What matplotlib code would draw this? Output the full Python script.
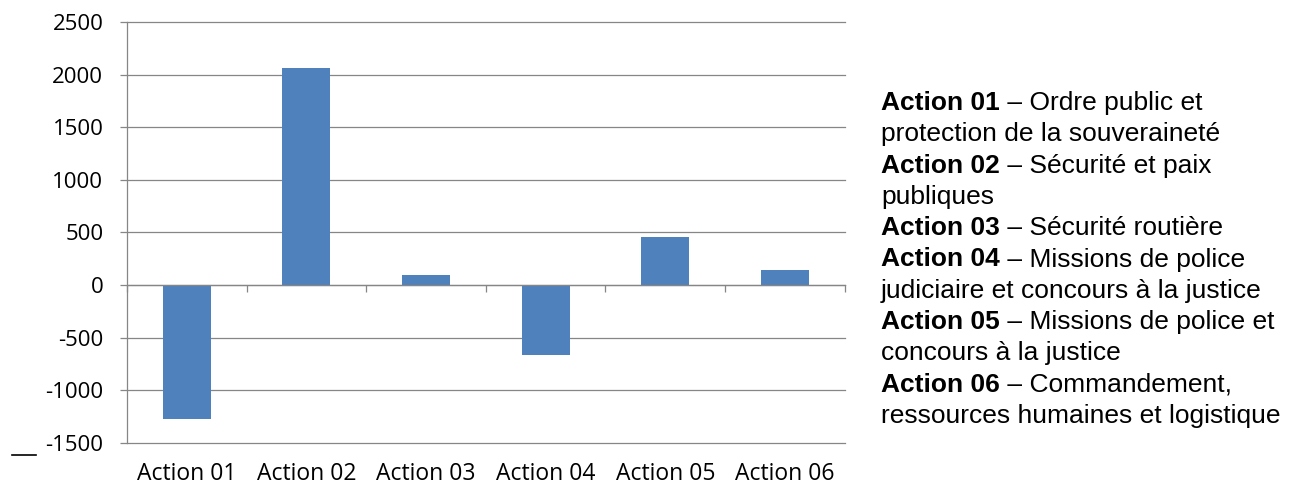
import matplotlib
matplotlib.use("Agg")
import matplotlib.pyplot as plt
from matplotlib.lines import Line2D

# Écarts par action
categories = ["Action 01", "Action 02", "Action 03", "Action 04", "Action 05", "Action 06"]
values = [-1270, 2060, 100, -660, 460, 140]
y_ticks = [-1500, -1000, -500, 0, 500, 1000, 1500, 2000, 2500]

legend_bold = ["Action 01", None, "Action 02", None, "Action 03", "Action 04", None,
               "Action 05", None, "Action 06", None]
legend_rest = [" – Ordre public et", "protection de la souveraineté", " – Sécurité et paix",
               "publiques", " – Sécurité routière", " – Missions de police",
               "judiciaire et concours à la justice", " – Missions de police et",
               "concours à la justice", " – Commandement,",
               "ressources humaines et logistique"]

GRID = "#868686"
BAR = "#4F81BD"
TICK_FONT = ["Open Sans", "DejaVu Sans"]

fig = plt.figure(figsize=(12.98, 4.88), dpi=100)
ax = fig.add_axes([0.0978, 0.0922, 0.553, 0.863])

x = list(range(len(categories)))
ax.bar(x, values, width=0.40, color=BAR, zorder=3)

ax.set_xlim(-0.5, len(categories) - 0.5)
ax.set_ylim(y_ticks[0], y_ticks[-1])
ax.set_yticks(y_ticks)
ax.set_yticklabels([str(v) for v in y_ticks], fontsize=16, family=TICK_FONT)
ax.tick_params(axis="y", length=5, width=0.9, color=GRID, pad=12)
ax.yaxis.grid(True, color=GRID, linewidth=0.9, zorder=0)
for gl in ax.get_ygridlines():
    gl.set_clip_on(False)

ax.set_xticks(x)
ax.set_xticklabels(categories, fontsize=16.5, family=TICK_FONT)
ax.tick_params(axis="x", length=0, pad=14)

for side in ("top", "right", "bottom"):
    ax.spines[side].set_visible(False)
ax.spines["left"].set_color(GRID)
ax.spines["left"].set_linewidth(0.9)

# Category axis crossing at zero, with ticks between categories
zero_pos = (0 - y_ticks[0]) / (y_ticks[-1] - y_ticks[0])
sec = ax.secondary_xaxis(zero_pos)
sec.set_xticks([i - 0.5 for i in range(len(categories) + 1)])
sec.set_xticklabels([])
sec.tick_params(axis="x", direction="out", length=5, width=0.9, color=GRID)
sec.spines["bottom"].set_color(GRID)
sec.spines["bottom"].set_linewidth(0.9)
sec.set_zorder(4)

# Short mark at lower left
fig.add_artist(Line2D([0.009, 0.028], [0.067, 0.067], color="black", linewidth=1.2))

# Description block on the right
fig.canvas.draw()
renderer = fig.canvas.get_renderer()
x0 = 881 / 1298
y_top = 1 - 103 / 488
step = 31.3 / 488
for i, (b, r) in enumerate(zip(legend_bold, legend_rest)):
    y = y_top - i * step
    xr = x0
    if b is not None:
        tb = fig.text(x0, y, b, fontsize=19, fontweight="bold", family="Liberation Sans",
                      va="center", ha="left")
        bb = tb.get_window_extent(renderer)
        xr = bb.x1 / fig.bbox.width
    fig.text(xr, y, r, fontsize=19, family="Liberation Sans", va="center", ha="left")

fig.savefig("out.png", dpi=100)
